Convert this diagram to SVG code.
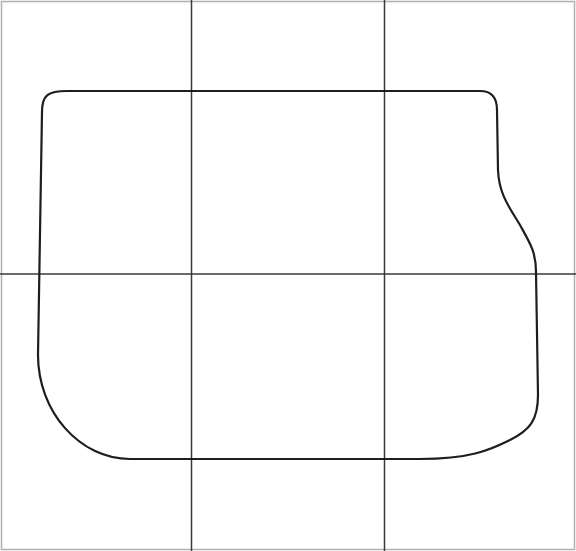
<svg xmlns="http://www.w3.org/2000/svg" width="576" height="551" viewBox="0 0 576 551">
<style>
.frame{fill:none;stroke:#b0b0b0;stroke-width:1.5}
.grid{stroke:#3a3a3a;stroke-width:1.5;fill:none}
.outline{fill:none;stroke:#1e1e1e;stroke-width:2.2;stroke-linejoin:round}
</style>
<rect width="576" height="551" fill="#ffffff"/>
<rect class="frame" x="1.5" y="1.5" width="573" height="548"/>
<g id="grid">
<line class="grid" x1="191.5" y1="0" x2="191.5" y2="551"/>
<line class="grid" x1="384.5" y1="0" x2="384.5" y2="551"/>
<line class="grid" x1="0" y1="274" x2="576" y2="274"/>
</g>
<g id="outline">
<path class="outline" d="M 67 91 L 480 91 Q 497 91 497 110 L 498 170 C 499 195 510 208 520 225 C 530 243 536 252 536 272 L 538 395 C 538 420 530 430 510 440 C 490 450 470 459 420 459 L 130 459 C 80 459 38 412 38 355 L 42 112 C 42 95 48 91 67 91 Z"/>
</g>
</svg>
